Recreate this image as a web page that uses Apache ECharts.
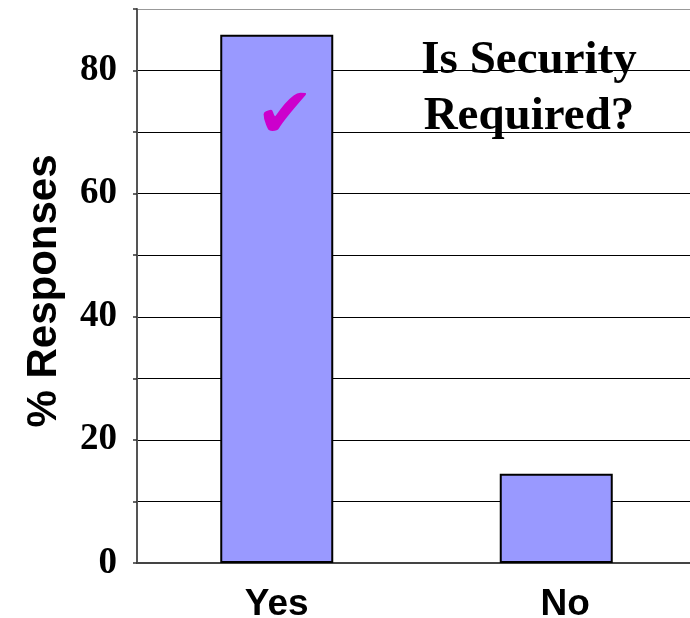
<!DOCTYPE html>
<html>
<head>
<meta charset="utf-8">
<title>Is Security Required?</title>
<script src="https://cdn.jsdelivr.net/npm/echarts@6/dist/echarts.min.js"></script>
<style>
  html, body { margin: 0; padding: 0; background: #fff; }
  #chart { width: 690px; height: 618px; }
</style>
</head>
<body>
<div id="chart"></div>
<script>
// Survey answers and share of responses (%)
const categories = ['Yes', 'No'];
const responses = [85.8, 14.5];
const yTicks = [0, 20, 40, 60, 80];
const titleLines = ['Is Security', 'Required?'];

const chart = echarts.init(document.getElementById('chart'));

// Grid lines every 10, the top one (at 90) drawn lighter
const gridColors = [];
for (let v = 0; v <= 90; v += 10) gridColors.push(v === 90 ? '#999999' : '#000000');

const barData = responses.map((v, i) => {
  const item = { value: v };
  if (i === 0) {
    // tick mark drawn inside the "Yes" bar
    item.label = {
      show: true,
      position: 'insideTop',
      offset: [8, 44],
      formatter: '\u2714',
      fontFamily: 'DejaVu Sans',
      fontSize: 70,
      color: '#CC00CC'
    };
  }
  return item;
});

// "No" label sits a little right of its bar centre
const categoryData = categories.map((c, i) =>
  i === 1 ? { value: c, textStyle: { padding: [0, 0, 0, 18] } } : c
);

chart.setOption({
  animation: false,
  backgroundColor: '#ffffff',
  // plot area runs slightly past the right edge of the canvas
  grid: {
    left: 137, width: 559, top: 9, height: 554,
    containLabel: false,
    outerBoundsMode: 'none'
  },
  xAxis: {
    type: 'category',
    data: categoryData,
    axisLine: { show: true, lineStyle: { color: '#444444', width: 2 } },
    axisTick: { show: false },
    axisLabel: {
      margin: 23,
      fontFamily: 'Liberation Sans',
      fontWeight: 'bold',
      fontSize: 37,
      color: '#000000'
    }
  },
  yAxis: {
    type: 'value',
    min: 0,
    max: 90,
    interval: 10,
    name: '% Responses',
    nameLocation: 'middle',
    nameRotate: 90,
    nameGap: 72,
    nameTextStyle: {
      fontFamily: 'Liberation Sans',
      fontWeight: 'bold',
      fontSize: 42,
      color: '#000000',
      padding: [0, 10, 0, 0]
    },
    axisLine: { show: true, lineStyle: { color: '#555555', width: 2 } },
    axisTick: { show: true, length: 4, lineStyle: { color: '#333333', width: 1.5 } },
    axisLabel: {
      margin: 20,
      fontFamily: 'Liberation Serif',
      fontWeight: 'bold',
      fontSize: 37,
      color: '#000000',
      formatter: v => (yTicks.indexOf(v) >= 0 ? String(v) : '')
    },
    splitLine: { show: true, lineStyle: { color: gridColors, width: 1.2 } }
  },
  series: [{
    type: 'bar',
    data: barData,
    barWidth: 113,
    itemStyle: { color: '#9999FF', borderColor: '#000000', borderWidth: 2 },
    z: 3
  }],
  graphic: [{
    type: 'group',
    left: 379,
    top: 20,
    z: 10,
    children: [
      { type: 'rect', shape: { x: 0, y: 0, width: 301, height: 150 }, style: { fill: '#ffffff' } },
      {
        type: 'text',
        x: 150,
        y: 13,
        style: {
          text: titleLines.join('\n'),
          fontFamily: 'Liberation Serif',
          fontWeight: 'bold',
          fontSize: 47,
          lineHeight: 56,
          align: 'center',
          verticalAlign: 'top',
          fill: '#000000'
        }
      }
    ]
  }]
});
</script>
</body>
</html>
